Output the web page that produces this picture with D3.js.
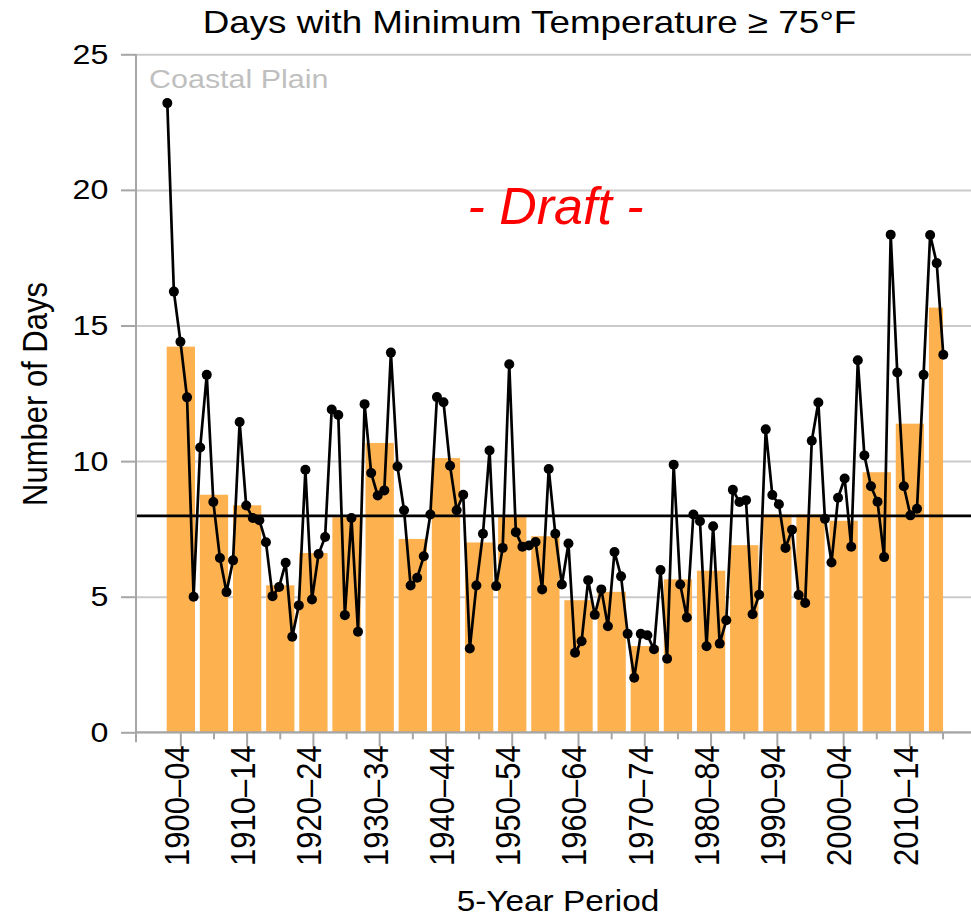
<!DOCTYPE html>
<html>
<head>
<meta charset="utf-8">
<script src="https://cdn.jsdelivr.net/npm/d3@7/dist/d3.min.js"></script>
<style>
body{margin:0;background:#fff;}
svg text{font-family:"Liberation Sans",Arial,sans-serif;}
</style>
</head>
<body>
<svg id="chart" width="971" height="920"></svg>
<script>
// 5-year periods (last one is partial: 2015-2018)
let periods = ["1900–04","1905–09","1910–14","1915–19","1920–24","1925–29","1930–34","1935–39",
    "1940–44","1945–49","1950–54","1955–59","1960–64","1965–69","1970–74","1975–79",
    "1980–84","1985–89","1990–94","1995–99","2000–04","2005–09","2010–14","2015–18"];
let periodMeans = [14.22, 8.76, 8.37, 5.42, 6.61, 7.93, 10.67, 7.13,
    10.11, 7.0, 7.98, 7.23, 4.87, 5.18, 3.18, 5.64,
    5.96, 6.9, 8.03, 8.03, 7.8, 9.59, 11.38, 15.66];

let years = d3.range(1900, 2019);
let annualDays = [
    23.2, 16.25, 14.4, 12.35, 5.0,   10.5, 13.18, 8.49, 6.43, 5.17,
    6.34, 11.44, 8.36, 7.9, 7.82,    7.01, 5.02, 5.36, 6.25, 3.52,
    4.68, 9.68, 4.9, 6.57, 7.2,      11.9, 11.7, 4.32, 7.9, 3.71,
    12.1, 9.56, 8.73, 8.92, 14.0,    9.8, 8.19, 5.41, 5.7, 6.49,
    8.03, 12.36, 12.17, 9.83, 8.19,  8.76, 3.09, 5.41, 7.32, 10.39,
    5.39, 6.8, 13.57, 7.38, 6.84,    6.89, 7.02, 5.27, 9.71, 7.32,
    5.45, 6.96, 2.93, 3.36, 5.61,    4.33, 5.27, 3.91, 6.65, 5.75,
    3.63, 2.01, 3.63, 3.58, 3.06,    5.98, 2.71, 9.87, 5.45, 4.23,
    8.03, 7.78, 3.17, 7.6, 3.27,     4.13, 8.94, 8.49, 8.56, 4.35,
    5.07, 11.17, 8.75, 8.41, 6.8,    7.47, 5.06, 4.77, 10.75, 12.16,
    7.87, 6.26, 8.65, 9.36, 6.84,    13.72, 10.21, 9.07, 8.5, 6.46,
    18.35, 13.27, 9.07, 8.0, 8.24,   13.18, 18.34, 17.3, 13.92
];
let average = 7.98;
let yTicks = [0, 5, 10, 15, 20, 25];

let svg = d3.select("#chart");
let plotLeft = 136, plotRight = 971, plotTop = 54.3, plotBottom = 732.3;
let stretch = 1.15;   // text in the picture is a bit wider than plain Arial

let y = d3.scaleLinear().domain([0, 25]).range([plotBottom, plotTop]);
let xBand = d3.scaleBand().domain(periods).range([166.7, 957.2]).paddingInner(0.146).paddingOuter(0);
let xYear = d3.scaleLinear().domain([1900, 2018]).range([167.3, 943.3]);

// gridlines
svg.append("g").attr("transform", "translate(" + plotLeft + ",0)")
    .call(d3.axisLeft(y).tickValues(yTicks).tickSize(-(plotRight - plotLeft)).tickFormat(""))
    .call(g => g.select(".domain").remove())
    .selectAll("line").attr("stroke", "#cacaca").attr("stroke-width", 2);

// bars
svg.append("g").selectAll("rect").data(periods).enter().append("rect")
    .attr("x", d => xBand(d))
    .attr("y", (d, i) => y(periodMeans[i]))
    .attr("width", (d, i) => i === periods.length - 1 ? xBand.bandwidth() / 2 : xBand.bandwidth())
    .attr("height", (d, i) => y(0) - y(periodMeans[i]))
    .attr("fill", "#fdb14f");

// average line
svg.append("line").attr("x1", plotLeft).attr("x2", plotRight)
    .attr("y1", y(average)).attr("y2", y(average))
    .attr("stroke", "black").attr("stroke-width", 2.8);

// y axis
let yAxis = svg.append("g").attr("transform", "translate(" + plotLeft + ",0)")
    .call(d3.axisLeft(y).tickValues(yTicks).tickSize(15).tickSizeOuter(0).tickPadding(9));
yAxis.select(".domain").remove();
yAxis.selectAll("line").attr("stroke", "#a6a6a6").attr("stroke-width", 2);
yAxis.selectAll("text").attr("font-size", 28).attr("fill", "black")
    .attr("font-family", "'Liberation Sans',Arial,sans-serif")
    .attr("transform", "scale(" + stretch + ",1)");
svg.append("line").attr("x1", plotLeft).attr("x2", plotLeft).attr("y1", plotTop).attr("y2", plotBottom + 10)
    .attr("stroke", "#a6a6a6").attr("stroke-width", 2);

// x axis
let xAxis = svg.append("g").attr("transform", "translate(0," + plotBottom + ")")
    .call(d3.axisBottom(xBand).tickSizeOuter(0).tickFormat((d, i) => i % 2 === 0 ? d : ""));
xAxis.select(".domain").remove();
xAxis.selectAll(".tick line").attr("stroke", "#a6a6a6").attr("stroke-width", 2)
    .attr("y2", (d, i) => i % 2 === 0 ? 14 : 7);
xAxis.selectAll(".tick text")
    .attr("font-size", 31).attr("fill", "black")
    .attr("font-family", "'Liberation Sans',Arial,sans-serif")
    .attr("text-anchor", "end")
    .attr("x", -13).attr("y", 0).attr("dy", "0.22em")
    .attr("transform", "scale(" + stretch + ",1) rotate(-90)");
svg.append("line").attr("x1", plotLeft).attr("x2", plotRight).attr("y1", plotBottom).attr("y2", plotBottom)
    .attr("stroke", "#a6a6a6").attr("stroke-width", 2);

// annual line + markers
let valueline = d3.line().x((d, i) => xYear(years[i])).y(d => y(d));
svg.append("path").datum(annualDays).attr("d", valueline)
    .attr("fill", "none").attr("stroke", "black").attr("stroke-width", 2.7)
    .attr("stroke-linejoin", "round");
svg.append("g").selectAll("circle").data(annualDays).enter().append("circle")
    .attr("cx", (d, i) => xYear(years[i])).attr("cy", d => y(d))
    .attr("r", 5).attr("fill", "black");

// texts
function label(x, yy, txt, size, extra) {
    let t = svg.append("text")
        .attr("transform", "translate(" + x + "," + yy + ")" + (extra || ""))
        .attr("font-size", size).text(txt);
    return t;
}
label(529.5, 33, "Days with Minimum Temperature ≥ 75°F", 32, " scale(" + stretch + ",1)")
    .attr("text-anchor", "middle");
label(149, 88, "Coastal Plain", 26.5, " scale(" + stretch + ",1)").attr("fill", "#bfbfbf");
label(555.5, 224, "- Draft -", 52).attr("text-anchor", "middle")
    .attr("fill", "#ff0000").attr("font-style", "italic");
label(47, 394, "Number of Days", 31, " scale(" + stretch + ",1) rotate(-90)")
    .attr("text-anchor", "middle");
label(558, 911, "5-Year Period", 29, " scale(" + stretch + ",1)").attr("text-anchor", "middle");
</script>
</body>
</html>
